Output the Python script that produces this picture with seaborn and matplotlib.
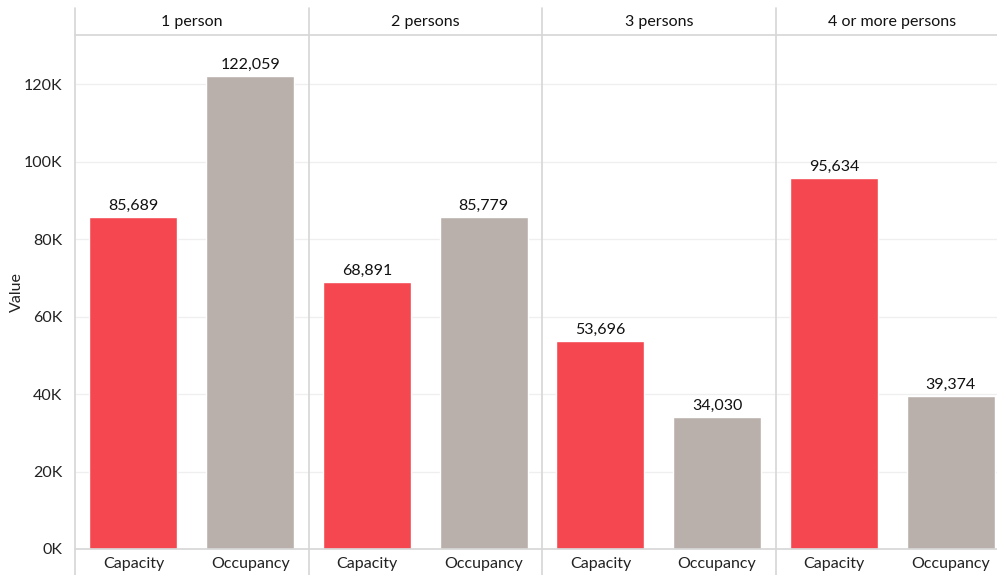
import numpy as np
import pandas as pd
import matplotlib
matplotlib.use("Agg")
import matplotlib.pyplot as plt
import seaborn as sns
from matplotlib.lines import Line2D
from matplotlib.ticker import FuncFormatter

groups = ["1 person", "2 persons", "3 persons", "4 or more persons"]
measures = ["Capacity", "Occupancy"]
capacity = [85689, 68891, 53696, 95634]
occupancy = [122059, 85779, 34030, 39374]
colors = {"Capacity": "#F4474F", "Occupancy": "#BAB0AB"}

df = pd.DataFrame({
    "group": np.repeat(groups, 2),
    "measure": measures * len(groups),
    "value": [v for pair in zip(capacity, occupancy) for v in pair],
})

sns.set_style("white")
plt.rcParams["font.family"] = ["Lato", "DejaVu Sans"]

W, H = 997, 575
fig = plt.figure(figsize=(W / 100, H / 100), dpi=100)

left, right = 75, 1009
top, base = 35, 549
pw = (right - left) / 4
ymax = (base - top) / 3.875 * 1000

fs = 11.5
line_c = "#D6D6D6"
for i, g in enumerate(groups):
    x0 = left + i * pw
    ax = fig.add_axes([x0 / W, (H - base) / H, pw / W, (base - top) / H])
    sub = df[df.group == g]
    sns.barplot(data=sub, x="measure", y="value", hue="measure", palette=colors,
                width=0.755, ax=ax, legend=False, saturation=1, order=measures)
    ax.set_ylim(0, ymax)
    ax.set_xlim(-0.5, 1.5)
    ax.set_yticks(np.arange(0, 120001, 20000))
    ax.grid(axis="y", color="#EFEFEF", lw=0.9)
    ax.set_axisbelow(True)
    for s in ax.spines.values():
        s.set_visible(False)
    ax.set_xlabel("")
    ax.set_ylabel("")
    ax.tick_params(axis="x", length=0, labelsize=fs, pad=6, colors="#222222")
    for c in ax.containers:
        ax.bar_label(c, labels=[f"{v:,.0f}" for v in c.datavalues],
                     padding=3, fontsize=fs, color="#111111")
    if i == 0:
        ax.yaxis.set_major_formatter(FuncFormatter(lambda v, p: f"{v/1000:.0f}K"))
        ax.tick_params(axis="y", length=0, labelsize=fs, pad=9, colors="#222222")
        ax.set_ylabel("Value", fontsize=fs, color="#222222")
        ax.yaxis.set_label_coords((24 - left) / pw, 0.5)
    else:
        ax.tick_params(axis="y", left=False, labelleft=False)
    fig.text((x0 + pw / 2) / W, (H - 22) / H, g, ha="center", va="center",
             fontsize=fs, color="#111111")

# frame lines: header separator, baseline, panel dividers
fig.add_artist(Line2D([left / W, 1], [(H - top) / H] * 2, color=line_c, lw=1.2))
fig.add_artist(Line2D([left / W, 1], [(H - base) / H] * 2, color=line_c, lw=1.2))
for i in range(4):
    x = (left + i * pw) / W
    fig.add_artist(Line2D([x, x], [0, (H - 8) / H], color=line_c, lw=1.2))

fig.savefig("out.png", dpi=100)
